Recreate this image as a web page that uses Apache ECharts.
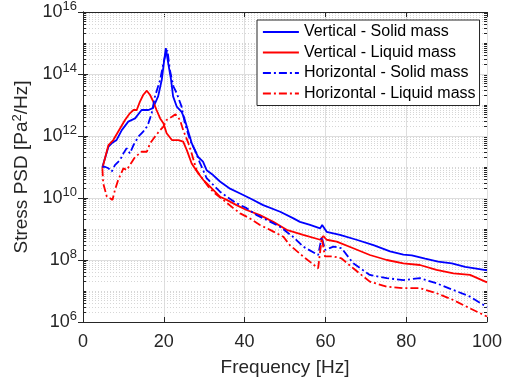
<!DOCTYPE html>
<html><head><meta charset="utf-8">
<script src="https://cdn.jsdelivr.net/npm/echarts@6/dist/echarts.min.js"></script>
<style>html,body{margin:0;padding:0;background:#fff}#c{width:514px;height:382px}</style>
</head><body><div id="c"></div>
<script>
const seriesNames = ['Vertical - Solid mass', 'Vertical - Liquid mass', 'Horizontal - Solid mass', 'Horizontal - Liquid mass'];
const xTicks = [0, 20, 40, 60, 80, 100];
const yTickExponents = [6, 8, 10, 12, 14, 16];

const vSolidFreq = [4.8, 6.3, 7.1, 8.3, 9.6, 11.2, 12.9, 14.5, 16.2, 17.3, 18.6, 19.5, 20.0, 20.5, 21.1, 21.8, 22.3, 23.2, 24.4, 25.1, 26.9, 28.5, 29.7, 30.6, 32.2, 33.9, 36.4, 38.9, 41.3, 44.6, 48.8, 52.1, 53.7, 56.2, 58.7, 59.2, 60.3, 63.6, 67.7, 71.9, 76.0, 79.3, 81.4, 84.7, 87.9, 91.3, 94.6, 97.0, 100];
const vSolidPsd = [1.0e11, 4.5e11, 5.8e11, 7.4e11, 1.55e12, 2.9e12, 3.7e12, 6.9e12, 6.9e12, 7.9e12, 1.9e13, 6.5e13, 2.2e14, 6.8e14, 2.2e14, 6.5e13, 1.9e13, 8.9e12, 6.0e12, 3.7e12, 5.9e11, 2.1e11, 1.5e11, 7.9e10, 5.5e10, 3.4e10, 2.0e10, 1.4e10, 9.8e9, 5.9e9, 3.6e9, 2.2e9, 1.7e9, 1.35e9, 1.05e9, 1.35e9, 8.1e8, 6.5e8, 4.5e8, 3.0e8, 1.9e8, 1.5e8, 1.4e8, 1.1e8, 8.9e7, 7.8e7, 6.0e7, 5.4e7, 4.6e7];

const vLiquidFreq = [4.8, 6.3, 7.5, 9.2, 10.4, 11.6, 12.5, 13.3, 14.1, 14.9, 15.8, 16.6, 17.4, 18.2, 19.1, 19.9, 20.7, 22.0, 23.6, 24.8, 25.7, 26.9, 28.5, 29.8, 30.6, 32.3, 33.9, 35.6, 38.0, 40.5, 43.8, 47.1, 50.4, 54.5, 58.7, 59.5, 60.3, 62.8, 66.9, 71.0, 75.2, 79.3, 83.4, 87.5, 91.7, 95.8, 100];
const vLiquidPsd = [9.1e10, 5.1e11, 7.4e11, 1.78e12, 3.3e12, 5.4e12, 6.9e12, 6.9e12, 1.29e13, 2.1e13, 2.9e13, 2.1e13, 1.29e13, 6.9e12, 3.7e12, 2.6e12, 1.23e12, 7.4e11, 7.4e11, 6.6e11, 3.5e11, 1.3e11, 6.3e10, 3.8e10, 3.0e10, 1.8e10, 1.1e10, 8.7e9, 5.9e9, 4.1e9, 2.8e9, 1.7e9, 9.4e8, 6.5e8, 4.5e8, 5.9e8, 4.5e8, 3.9e8, 2.4e8, 1.45e8, 1.0e8, 7.8e7, 6.9e7, 4.8e7, 3.7e7, 3.3e7, 1.9e7];

const hSolidFreq = [4.8, 5.4, 6.3, 7.1, 7.9, 9.2, 10.0, 10.8, 11.6, 12.5, 13.7, 14.9, 15.8, 16.2, 17.0, 17.8, 19.1, 19.9, 20.5, 20.9, 21.5, 22.4, 23.2, 24.4, 25.2, 26.5, 27.7, 29.0, 30.6, 32.3, 33.9, 35.6, 38.0, 40.5, 43.0, 45.5, 48.8, 52.0, 54.5, 58.2, 59.1, 59.9, 62.0, 64.0, 66.9, 71.0, 75.2, 79.3, 83.4, 87.5, 91.7, 95.8, 100];
const hSolidPsd = [1.02e11, 1.02e11, 9.1e10, 7.1e10, 1.15e11, 1.7e11, 2.75e11, 4.0e11, 2.75e11, 5.1e11, 9.5e11, 1.38e12, 2.0e12, 2.6e12, 5.4e12, 1.86e13, 6.5e13, 2.2e14, 4.7e14, 5.9e14, 1.35e14, 3.9e13, 2.4e13, 8.9e12, 2.6e12, 7.4e11, 3.5e11, 1.3e11, 4.4e10, 2.6e10, 1.6e10, 1.1e10, 6.8e9, 4.7e9, 2.8e9, 1.95e9, 1.17e9, 5.6e8, 2.7e8, 1.45e8, 5.6e8, 2.1e8, 2.7e8, 2.4e8, 7.8e7, 3.3e7, 2.6e7, 2.25e7, 2.6e7, 1.78e7, 1.07e7, 6.6e6, 3.0e6];

const hLiquidFreq = [4.8, 5.0, 5.9, 6.7, 7.3, 7.9, 8.7, 10.0, 10.8, 11.6, 12.9, 14.5, 15.8, 16.6, 17.8, 19.1, 19.9, 20.7, 22.0, 22.9, 24.0, 24.8, 26.1, 26.9, 28.1, 29.8, 31.4, 33.1, 34.7, 37.2, 38.9, 41.3, 43.8, 46.3, 49.6, 51.2, 54.5, 58.2, 59.1, 59.9, 62.0, 64.0, 66.9, 71.0, 75.2, 79.3, 83.4, 87.5, 91.7, 95.8, 100];
const hLiquidPsd = [9.1e10, 3.0e10, 1.1e10, 9.8e9, 8.7e9, 1.8e10, 3.8e10, 9.1e10, 7.9e10, 1.15e11, 2.1e11, 3.1e11, 3.1e11, 5.8e11, 9.5e11, 1.55e12, 2.0e12, 3.3e12, 4.2e12, 5.0e12, 3.3e12, 1.55e12, 5.8e11, 2.75e11, 7.9e10, 3.8e10, 2.0e10, 1.26e10, 8.7e9, 4.7e9, 3.2e9, 2.2e9, 1.35e9, 9.4e8, 5.6e8, 3.0e8, 1.3e8, 5.4e7, 5.0e8, 1.3e8, 1.3e8, 1.12e8, 5.4e7, 2.0e7, 1.38e7, 1.23e7, 1.23e7, 8.5e6, 5.1e6, 2.75e6, 1.5e6];

const zip = (f, v) => f.map((x, i) => [x, v[i]]);

// minor grid positions of a MATLAB log axis (2..9 x 10^k, plus odd decades)
const minorVals = [];
for (let k = 6; k < 16; k++) {
  for (let d = 1; d < 10; d++) {
    if (d === 1 && yTickExponents.includes(k)) continue;
    minorVals.push(d * Math.pow(10, k));
  }
}

const AX = '#262626';
const FONT = 'Liberation Sans, Arial, Helvetica, sans-serif';
const dashDot = [8, 3, 2, 3];
const colors = ['#0000ff', '#ff0000', '#0000ff', '#ff0000'];
const types = ['solid', 'solid', dashDot, dashDot];

const chart = echarts.init(document.getElementById('c'), null, {renderer: 'canvas'});

const yLabelFmt = v => {
  const e = Math.round(Math.log10(v));
  return '{b|10}{s|' + e + '}';
};

const mkLine = (i, f, v) => ({
  name: seriesNames[i], type: 'line', data: zip(f, v), symbol: 'none', showSymbol: false,
  lineStyle: {color: colors[i], width: 1.8, type: types[i]}, itemStyle: {color: colors[i]}, z: 5, clip: true
});

const option = {
  backgroundColor: '#fff',
  animation: false,
  textStyle: {fontFamily: FONT},
  grid: {left: 83, right: 27, top: 12, bottom: 60, containLabel: false},
  legend: {
    z: 20,
    data: seriesNames.map((n, i) => ({name: n, lineStyle: {color: colors[i], width: 1.8, type: types[i]}})),
    orient: 'vertical', left: 257, top: 20,
    itemWidth: 36, itemHeight: 14, itemGap: 4.5,
    padding: [4, 4, 4, 5], borderColor: AX, borderWidth: 1, backgroundColor: '#fff',
    itemStyle: {opacity: 0, borderWidth: 0},
    textStyle: {fontSize: 16, color: '#000', fontFamily: FONT}
  },
  xAxis: [{
    type: 'value', min: 0, max: 100, interval: 20, position: 'bottom',
    name: 'Frequency [Hz]', nameLocation: 'middle', nameGap: 36,
    nameTextStyle: {fontSize: 19, color: AX, fontFamily: FONT},
    axisLine: {show: true, lineStyle: {color: AX, width: 1}},
    axisTick: {show: true, inside: true, length: 5, lineStyle: {color: AX}},
    axisLabel: {fontSize: 18, color: AX, margin: 11, fontFamily: FONT,
      formatter: v => xTicks.includes(v) ? String(v) : ''},
    splitLine: {show: true, lineStyle: {color: '#dedede', width: 1}}
  }, {
    type: 'value', min: 0, max: 100, interval: 20, position: 'top',
    axisLine: {show: true, lineStyle: {color: AX, width: 1}},
    axisTick: {show: true, inside: true, length: 5, lineStyle: {color: AX}},
    axisLabel: {show: false}, splitLine: {show: false}
  }],
  yAxis: [{
    type: 'log', logBase: 10, min: 1e6, max: 1e16, interval: 2, position: 'left',
    name: 'Stress PSD [Pa{sup|2}/Hz]', nameLocation: 'middle', nameGap: 44,
    nameTextStyle: {fontSize: 19, color: AX, fontFamily: FONT,
      rich: {sup: {fontSize: 13, padding: [0, 0, 10, 0], color: AX, fontFamily: FONT}}},
    axisLine: {show: true, lineStyle: {color: AX, width: 1}},
    axisTick: {show: true, inside: true, length: 5, lineStyle: {color: AX}},
    axisLabel: {margin: 6, color: AX, formatter: yLabelFmt,
      rich: {
        b: {fontSize: 18, color: AX, fontFamily: FONT},
        s: {fontSize: 13, color: AX, fontFamily: FONT, padding: [0, 0, 11, 0]}
      }},
    splitLine: {show: true, lineStyle: {color: '#dedede', width: 1}}
  }, {
    type: 'log', logBase: 10, min: 1e6, max: 1e16, interval: 2, position: 'right',
    axisLine: {show: true, lineStyle: {color: AX, width: 1}},
    axisTick: {show: true, inside: true, length: 5, lineStyle: {color: AX}},
    axisLabel: {show: false}, splitLine: {show: false}
  }],
  series: [
    mkLine(0, vSolidFreq, vSolidPsd),
    mkLine(1, vLiquidFreq, vLiquidPsd),
    mkLine(2, hSolidFreq, hSolidPsd),
    mkLine(3, hLiquidFreq, hLiquidPsd),
    {
      name: 'minorGrid', type: 'line', data: [], silent: true, z: 1,
      markLine: {
        z: 1, silent: true, symbol: ['none', 'none'], label: {show: false}, animation: false,
        lineStyle: {type: [1, 2], color: '#d6d6d6', width: 1},
        emphasis: {disabled: true},
        data: minorVals.map(v => ({yAxis: v}))
      }
    },
    {
      name: 'minorTicks', type: 'line', data: [], silent: true, z: 2,
      markLine: {
        z: 2, silent: true, symbol: ['none', 'none'], label: {show: false}, animation: false,
        lineStyle: {type: 'solid', color: AX, width: 1},
        emphasis: {disabled: true},
        data: minorVals.flatMap(v => [
          [{coord: [0, v]}, {coord: [0.75, v]}],
          [{coord: [99.25, v]}, {coord: [100, v]}]
        ])
      }
    }
  ]
};
chart.setOption(option);
</script>
</body></html>
